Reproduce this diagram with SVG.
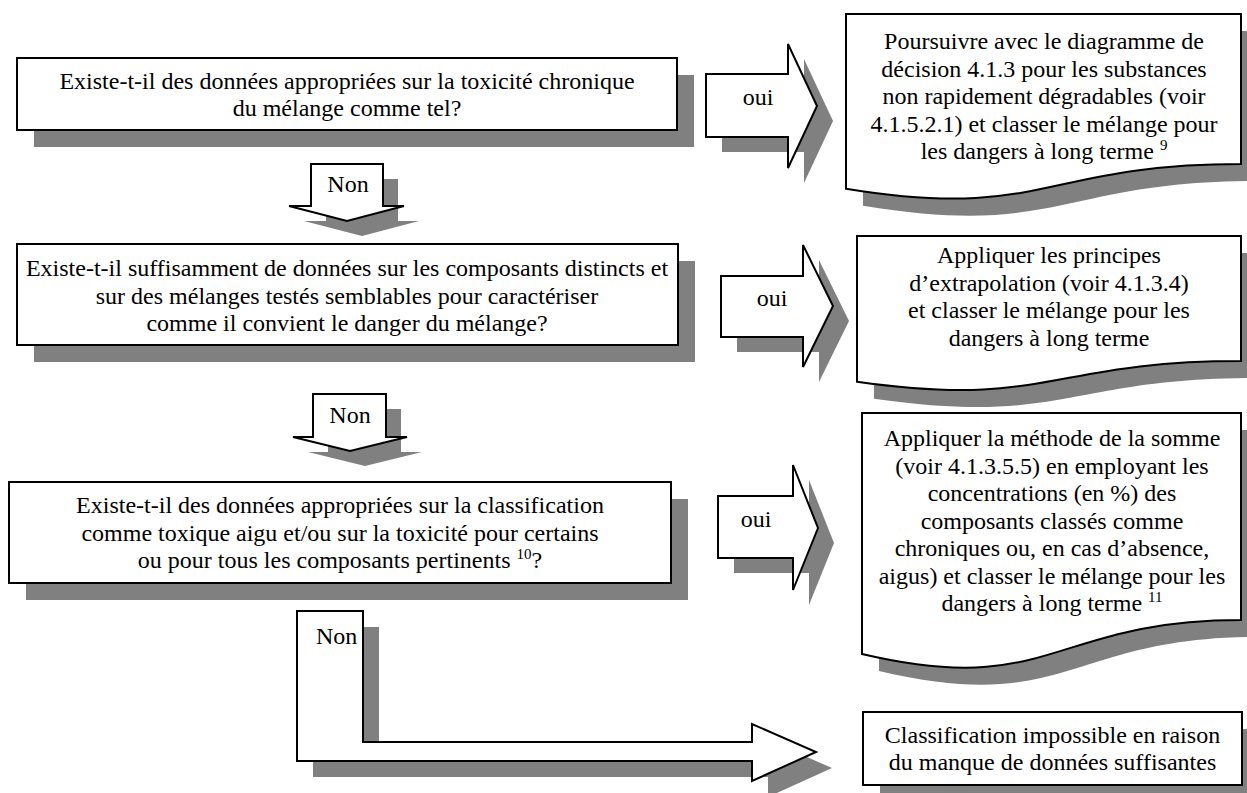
<svg xmlns="http://www.w3.org/2000/svg" width="1247" height="793" viewBox="0 0 1247 793">
<style>
.sh{fill:#808080;stroke:none}
.bx{fill:#fff;stroke:#000;stroke-width:2}
.t{font-family:"Liberation Serif","Times New Roman",serif;font-size:24px;fill:#000;text-anchor:middle}
.tl{font-family:"Liberation Serif","Times New Roman",serif;font-size:24px;fill:#000}
.sup{font-size:15px}
</style>
<rect width="1247" height="793" fill="#fff"/>

<g id="connectors">
  <!-- oui 1 -->
  <g id="oui1">
    <path class="sh" transform="translate(16,15)" d="M706,74 L788,74 L788,44 L817,106 L788,168 L788,137 L706,137 Z"/>
    <path class="bx" d="M706,74 L788,74 L788,44 L817,106 L788,168 L788,137 L706,137 Z"/>
    <text class="t" x="758" y="105">oui</text>
  </g>
  <!-- oui 2 -->
  <g id="oui2">
    <path class="sh" transform="translate(16,15)" d="M721,276 L803,276 L803,245 L833,306 L803,367 L803,337 L721,337 Z"/>
    <path class="bx" d="M721,276 L803,276 L803,245 L833,306 L803,367 L803,337 L721,337 Z"/>
    <text class="t" x="772" y="306">oui</text>
  </g>
  <!-- oui 3 -->
  <g id="oui3">
    <path class="sh" transform="translate(16,15)" d="M718,496 L793,496 L793,465 L818,528 L793,590 L793,558 L718,558 Z"/>
    <path class="bx" d="M718,496 L793,496 L793,465 L818,528 L793,590 L793,558 L718,558 Z"/>
    <text class="t" x="756" y="527">oui</text>
  </g>
  <!-- Non 1 -->
  <g id="non1">
    <path class="sh" transform="translate(15,15)" d="M311,164 L383,164 L383,206 L404,206 L347,221 L289,206 L311,206 Z"/>
    <path class="bx" d="M311,164 L383,164 L383,206 L404,206 L347,221 L289,206 L311,206 Z"/>
    <text class="t" x="348" y="192">Non</text>
  </g>
  <!-- Non 2 -->
  <g id="non2">
    <path class="sh" transform="translate(15,15)" d="M313,394 L386,394 L386,437 L407,437 L350,451 L293,437 L313,437 Z"/>
    <path class="bx" d="M313,394 L386,394 L386,437 L407,437 L350,451 L293,437 L313,437 Z"/>
    <text class="t" x="350" y="423">Non</text>
  </g>
  <!-- Non 3 (bent) -->
  <g id="non3">
    <path class="sh" transform="translate(16,16)" d="M297,611 L363,611 L363,742 L752,742 L752,724 L816,752 L752,781 L752,761 L297,761 Z"/>
    <path class="bx" d="M297,611 L363,611 L363,742 L752,742 L752,724 L816,752 L752,781 L752,761 L297,761 Z"/>
    <text class="tl" x="316" y="644">Non</text>
  </g>
</g>

<g id="q1">
  <rect class="sh" x="34" y="75" width="660" height="72"/>
  <rect class="bx" x="17" y="58" width="660" height="72"/>
  <text class="t" x="347" y="89">Existe-t-il des données appropriées sur la toxicité chronique</text>
  <text class="t" x="347" y="116">du mélange comme tel?</text>
</g>

<g id="q2">
  <rect class="sh" x="34" y="261" width="661" height="101"/>
  <rect class="bx" x="17" y="244" width="661" height="101"/>
  <text class="t" x="347" y="276">Existe-t-il suffisamment de données sur les composants distincts et</text>
  <text class="t" x="347" y="303.5">sur des mélanges testés semblables pour caractériser</text>
  <text class="t" x="347" y="331">comme il convient le danger du mélange?</text>
</g>

<g id="q3">
  <rect class="sh" x="26" y="499" width="662" height="101"/>
  <rect class="bx" x="9" y="482" width="662" height="101"/>
  <text class="t" x="340" y="513">Existe-t-il des données appropriées sur la classification</text>
  <text class="t" x="340" y="541">comme toxique aigu et/ou sur la toxicité pour certains</text>
  <text class="t" x="340" y="568">ou pour tous les composants pertinents <tspan class="sup" dy="-9">10</tspan><tspan dy="9">?</tspan></text>
</g>

<g id="r1">
  <path class="sh" transform="translate(17,17)" d="M846,14 L1241,14 L1241,164 C1043.5,164 1043.5,221.1 846,188.7 Z"/>
  <path class="bx" d="M846,14 L1241,14 L1241,164 C1043.5,164 1043.5,221.1 846,188.7 Z"/>
  <text class="t" x="1044" y="49">Poursuivre avec le diagramme de</text>
  <text class="t" x="1044" y="76.5">décision 4.1.3 pour les substances</text>
  <text class="t" x="1044" y="104">non rapidement dégradables (voir</text>
  <text class="t" x="1044" y="131.5">4.1.5.2.1) et classer le mélange pour</text>
  <text class="t" x="1044" y="159">les dangers à long terme <tspan class="sup" dy="-9">9</tspan></text>
</g>

<g id="r2">
  <path class="sh" transform="translate(17,17)" d="M857,236 L1241,236 L1241,361 C1049,361 1049,408.8 857,381.7 Z"/>
  <path class="bx" d="M857,236 L1241,236 L1241,361 C1049,361 1049,408.8 857,381.7 Z"/>
  <text class="t" x="1049" y="263">Appliquer les principes</text>
  <text class="t" x="1049" y="290.5">d’extrapolation (voir 4.1.3.4)</text>
  <text class="t" x="1049" y="318">et classer le mélange pour les</text>
  <text class="t" x="1049" y="345.5">dangers à long terme</text>
</g>

<g id="r3">
  <path class="sh" transform="translate(17,17)" d="M862,413 L1241,413 L1241,620 C1051.5,620 1051.5,698.7 862,654 Z"/>
  <path class="bx" d="M862,413 L1241,413 L1241,620 C1051.5,620 1051.5,698.7 862,654 Z"/>
  <text class="t" x="1052" y="446">Appliquer la méthode de la somme</text>
  <text class="t" x="1052" y="473.5">(voir 4.1.3.5.5) en employant les</text>
  <text class="t" x="1052" y="501">concentrations (en %) des</text>
  <text class="t" x="1052" y="528.5">composants classés comme</text>
  <text class="t" x="1052" y="556">chroniques ou, en cas d’absence,</text>
  <text class="t" x="1052" y="583.5">aigus) et classer le mélange pour les</text>
  <text class="t" x="1052" y="611">dangers à long terme <tspan class="sup" dy="-9">11</tspan></text>
</g>

<g id="r4">
  <rect class="sh" x="880" y="729" width="379" height="73"/>
  <rect class="bx" x="863" y="712" width="379" height="73"/>
  <text class="t" x="1052.5" y="743">Classification impossible en raison</text>
  <text class="t" x="1052.5" y="770">du manque de données suffisantes</text>
</g>
</svg>
